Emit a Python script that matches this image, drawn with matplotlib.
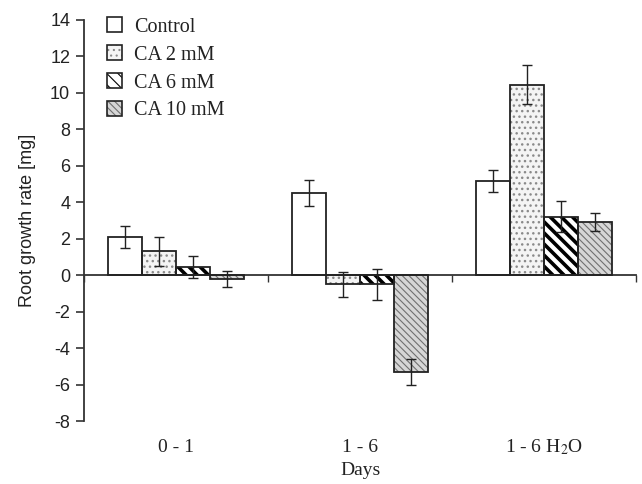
import numpy as np
import matplotlib
matplotlib.use('Agg')
import matplotlib.pyplot as plt
from matplotlib.patches import Patch

plt.rcParams['mathtext.fontset'] = 'stix'

days = ['0 - 1', '1 - 6', r'1 - 6 H$_2$O']
series = ['Control', 'CA 2 mM', 'CA 6 mM', 'CA 10 mM']
values = [
    [2.1, 4.5, 5.15],      # Control
    [1.3, -0.5, 10.45],    # CA 2 mM
    [0.45, -0.5, 3.2],     # CA 6 mM
    [-0.2, -5.3, 2.9],     # CA 10 mM
]
errors = [
    [0.6, 0.7, 0.6],
    [0.8, 0.7, 1.05],
    [0.6, 0.85, 0.85],
    [0.45, 0.7, 0.5],
]

# face, hatch, hatch colour, hatch width
styles = [
    ('white', '', 'black', 1.0),
    ('#f4f4f4', '...', '#8a8a8a', 1.0),
    ('white', '\\\\\\', 'black', 2.6),
    ('#d6d6d6', '\\\\\\\\\\', '#707070', 0.8),
]

fig = plt.figure(figsize=(6.42, 4.84), dpi=100)
ax = fig.add_axes([0.131, 0.130, 0.860, 0.829])

x = np.arange(len(days)) + 0.5
w = 0.185
handles = []
for i, name in enumerate(series):
    fc, hatch, hc, hlw = styles[i]
    pos = x + (i - 1.5) * w
    plt.rcParams['hatch.linewidth'] = hlw
    plt.rcParams['hatch.color'] = hc
    ax.bar(pos, values[i], w, color=fc, hatch=hatch, edgecolor=hc, linewidth=0, zorder=2)
    ax.bar(pos, values[i], w, fill=False, edgecolor='#222222', linewidth=1.3, zorder=3)
    ax.errorbar(pos, values[i], yerr=errors[i], fmt='none', ecolor='#222222',
                elinewidth=1.0, capsize=3.5, capthick=1.0, zorder=4)
    h = Patch(facecolor=fc, hatch=hatch, edgecolor=hc, linewidth=0)
    handles.append((h, Patch(fill=False, edgecolor='#222222', linewidth=1.2)))

ax.set_xlim(0, 3)
ax.set_ylim(-8, 14)
ax.set_yticks(np.arange(-8, 15, 2))
ax.set_yticklabels([str(v) for v in range(-8, 15, 2)], family='Liberation Sans', fontsize=13,
                   color='#222222')
ax.tick_params(axis='y', direction='out', length=6, width=1.2, color='#333333', pad=4)

ax.set_xticks([0, 1, 2, 3])
ax.set_xticklabels([])
ax.tick_params(axis='x', direction='out', length=5, width=1.0, color='#333333')

for s in ['top', 'right']:
    ax.spines[s].set_visible(False)
ax.spines['bottom'].set_position(('data', 0))
ax.spines['left'].set_linewidth(1.3)
ax.spines['bottom'].set_linewidth(1.3)
ax.spines['left'].set_color('#333333')
ax.spines['bottom'].set_color('#333333')

for xi, lab in zip(x, days):
    ax.text(xi, -0.066, lab, transform=ax.get_xaxis_transform(), ha='center', va='center',
            family='Liberation Serif', fontsize=14, color='#222222')
ax.text(0.5, -0.124, 'Days', transform=ax.transAxes, ha='center', va='center',
        family='Liberation Serif', fontsize=14, color='#222222')
ax.set_ylabel('Root growth rate [mg]', family='Liberation Sans', fontsize=13, labelpad=10,
              color='#222222')

leg = ax.legend(handles, series, loc='upper left', bbox_to_anchor=(0.167, 0.964),
                bbox_transform=fig.transFigure, frameon=False,
                prop={'family': 'Liberation Serif', 'size': 14.5},
                handlelength=0.75, handleheight=0.75, labelspacing=0.42, handletextpad=0.6,
                borderaxespad=0, borderpad=0)
for t in leg.get_texts():
    t.set_color('#222222')

fig.savefig('out.png', dpi=100)
